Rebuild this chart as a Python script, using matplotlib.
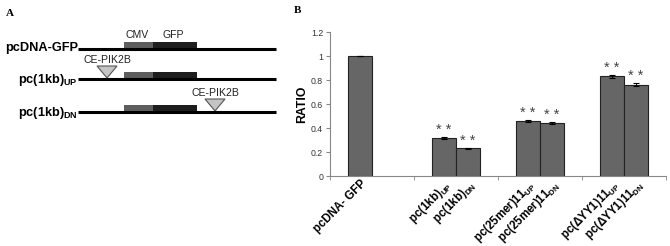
import numpy as np
import matplotlib.pyplot as plt
from matplotlib.patches import Rectangle, Polygon

plt.rcParams['font.family'] = ['Liberation Sans', 'DejaVu Sans']

# Daten Panel B
groups = ['pcDNA-GFP', '1kb', '25mer', 'dYY1']
up_vals = [1.0, 0.32, 0.46, 0.83]
up_err = [0.0, 0.008, 0.008, 0.012]
dn_vals = [np.nan, 0.23, 0.44, 0.76]
dn_err = [0.0, 0.006, 0.008, 0.014]
up_labels = ['pcDNA- GFP', r'pc(1kb)$_{\mathregular{UP}}$',
             r'pc(25mer)11$_{\mathregular{UP}}$', r'pc($\mathregular{\Delta}$YY1)11$_{\mathregular{UP}}$']
dn_labels = ['', r'pc(1kb)$_{\mathregular{DN}}$',
             r'pc(25mer)11$_{\mathregular{DN}}$', r'pc($\mathregular{\Delta}$YY1)11$_{\mathregular{DN}}$']
stars_up = [False, True, True, True]
stars_dn = [False, True, True, True]

# Schema Panel A (Pixelkoordinaten)
constructs = [r'pcDNA-GFP', r'pc(1kb)$_{\mathregular{UP}}$', r'pc(1kb)$_{\mathregular{DN}}$']
row_y = [49, 79, 112]
insert_x = [None, 107, 215]

fig = plt.figure(figsize=(6.7, 2.46), dpi=100)

# Panel A
axa = fig.add_axes([0, 0, 1, 1])
axa.set_xlim(0, 670)
axa.set_ylim(246, 0)
axa.axis('off')
axa.text(6, 16, 'A', fontsize=8, fontweight='bold', family='Liberation Serif')
axa.text(294, 13, 'B', fontsize=8, fontweight='bold', family='Liberation Serif')

for name, y, ix in zip(constructs, row_y, insert_x):
    axa.plot([78, 276], [y, y], color='black', lw=2.2, solid_capstyle='butt')
    axa.add_patch(Rectangle((124, y - 7), 29, 7, facecolor='#5e5e5e', edgecolor='none'))
    axa.add_patch(Rectangle((153, y - 7), 44, 7, facecolor='#1e1e1e', edgecolor='none'))
    dy = 2 if ix is None else 4
    axa.text(78, y + dy, name, ha='right', va='baseline', fontsize=9.2, fontweight='bold')
    if ix is not None:
        axa.add_patch(Polygon([[ix - 10, y - 13], [ix + 10, y - 13], [ix, y - 1]],
                              closed=True, facecolor='#c4c4c4', edgecolor='#555555', lw=0.8))
        axa.text(ix, y - 16, 'CE-PIK2B', ha='center', va='baseline', fontsize=7.6, color='#222222')
axa.text(137, 38, 'CMV', ha='center', va='baseline', fontsize=7.6, color='#222222')
axa.text(173, 38, 'GFP', ha='center', va='baseline', fontsize=7.6, color='#222222')

# Panel B
ax = fig.add_axes([330 / 670, 1 - 176 / 246, 336 / 670, 144 / 246])
x = np.arange(len(groups))
w = 0.2857
ax.bar(x - w / 2, up_vals, w, yerr=up_err, color='#666666', edgecolor='#222222', lw=0.8,
       error_kw=dict(ecolor='black', capsize=2, elinewidth=0.8, capthick=0.8))
ax.bar(x + w / 2, dn_vals, w, yerr=dn_err, color='#666666', edgecolor='#222222', lw=0.8,
       error_kw=dict(ecolor='black', capsize=2, elinewidth=0.8, capthick=0.8))

for i in range(len(groups)):
    if stars_up[i]:
        ax.annotate('* *', (x[i] - w / 2, up_vals[i] + up_err[i]), xytext=(0, 5),
                    textcoords='offset points', ha='center', va='center', fontsize=10.5, color='#444444')
    if stars_dn[i]:
        ax.annotate('* *', (x[i] + w / 2, dn_vals[i] + dn_err[i]), xytext=(0, 5),
                    textcoords='offset points', ha='center', va='center', fontsize=10.5, color='#444444')

ax.set_xlim(-0.5, 3.5)
ax.set_ylim(0, 1.2)
ax.set_yticks(np.arange(0, 1.21, 0.2))
ax.set_yticklabels(['0', '0.2', '0.4', '0.6', '0.8', '1', '1.2'], fontsize=6.3, color='#333333')
ax.set_ylabel('RATIO', fontsize=8.8, fontweight='bold', labelpad=2)

pos = np.ravel(np.column_stack([x - w / 2, x + w / 2]))
labs = [l for pair in zip(up_labels, dn_labels) for l in pair]
ax.set_xticks(pos)
ax.set_xticklabels(labs, rotation=45, ha='right', rotation_mode='anchor',
                   fontsize=8.3, fontweight='bold')
ax.set_xticks(np.arange(-0.5, 3.6, 1), minor=True)
ax.tick_params(axis='x', which='major', length=0, pad=1)
ax.tick_params(axis='x', which='minor', length=3, color='#888888', direction='out')
ax.tick_params(axis='y', length=3, color='#888888', pad=2)
for s in ['top', 'right']:
    ax.spines[s].set_visible(False)
for s in ['left', 'bottom']:
    ax.spines[s].set_color('#888888')
    ax.spines[s].set_linewidth(0.8)

fig.savefig('out.png', dpi=100)
